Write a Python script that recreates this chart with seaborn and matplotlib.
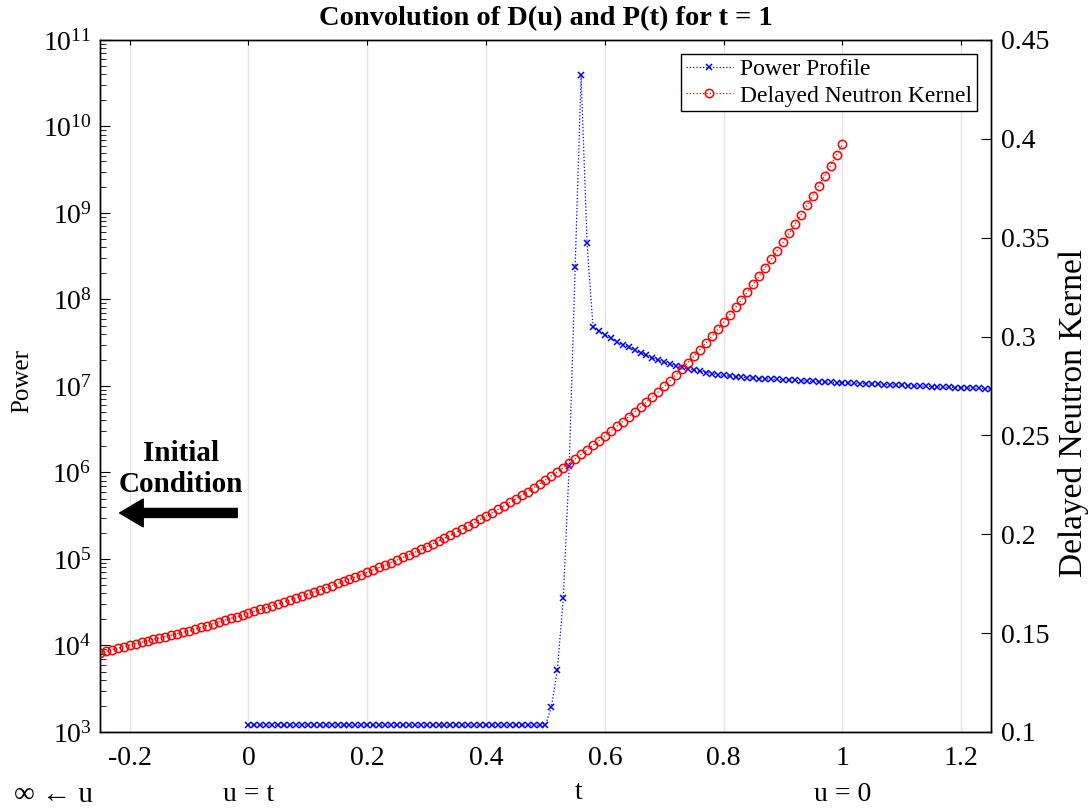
import numpy as np
import seaborn as sns
import matplotlib.pyplot as plt
import matplotlib.transforms as mtransforms

# time grids, step 0.01
t_power = np.round(np.arange(0, 1.2501, 0.01), 2)
t_kernel = np.round(np.arange(-0.25, 1.0001, 0.01), 2)

# power profile
power_flat = [1.2e3] * 51                                              # t = 0.00 .. 0.50
power_spike = [1.96e3, 5.2e3, 3.5e4, 1.2e6, 2.4e8, 3.9e10, 4.5e8]     # t = 0.51 .. 0.57
power_tail = [4.85e7, 4.3e7, 3.9e7, 3.55e7, 3.25e7, 3.0e7, 2.8e7, 2.6e7, 2.43e7, 2.26e7,
              2.11e7, 1.99e7, 1.88e7, 1.79e7, 1.71e7, 1.64e7, 1.58e7, 1.53e7, 1.48e7, 1.43e7,
              1.39e7, 1.355e7, 1.325e7, 1.30e7, 1.275e7, 1.26e7, 1.245e7, 1.23e7,
              1.22e7, 1.21e7, 1.20e7, 1.19e7, 1.18e7, 1.17e7, 1.16e7, 1.15e7, 1.14e7, 1.13e7,
              1.12e7, 1.11e7, 1.105e7, 1.095e7, 1.09e7,
              1.082e7, 1.075e7, 1.068e7, 1.061e7, 1.054e7, 1.047e7, 1.040e7, 1.033e7, 1.026e7,
              1.019e7, 1.012e7, 1.005e7, 9.98e6, 9.91e6, 9.84e6, 9.77e6, 9.71e6, 9.65e6, 9.59e6,
              9.53e6, 9.47e6, 9.41e6, 9.35e6, 9.29e6, 9.23e6]                # t = 0.58 .. 1.25
power = power_flat + power_spike + power_tail

# delayed neutron kernel, t = -0.25 .. 1.00
kernel = [0.1400, 0.1408, 0.1416, 0.1424, 0.1432, 0.1440, 0.1447, 0.1454, 0.1461, 0.1468,
          0.1475, 0.1482, 0.1490, 0.1497, 0.1505, 0.1513, 0.1521, 0.1529, 0.1538, 0.1547,
          0.1556, 0.1565, 0.1574, 0.1583, 0.1592,
          0.1601, 0.1610, 0.1620, 0.1629, 0.1639, 0.1648, 0.1658, 0.1668, 0.1678, 0.1688,
          0.1698, 0.1708, 0.1719, 0.1729, 0.1740, 0.1751, 0.1762, 0.1773, 0.1784, 0.1796,
          0.1808, 0.1820, 0.1832, 0.1844, 0.1857, 0.1870, 0.1883, 0.1896, 0.1909, 0.1923,
          0.1937, 0.1951, 0.1966, 0.1980, 0.1995, 0.2011, 0.2026, 0.2042, 0.2058, 0.2075,
          0.2092, 0.2109, 0.2126, 0.2143, 0.2161, 0.2179, 0.2197, 0.2216, 0.2235, 0.2255,
          0.2275, 0.2295, 0.2316, 0.2337, 0.2359, 0.2381, 0.2404, 0.2427, 0.2450, 0.2474,
          0.2498, 0.2522, 0.2546, 0.2570, 0.2594, 0.2619, 0.2644, 0.2669, 0.2695, 0.2721,
          0.2748, 0.2777, 0.2807, 0.2837, 0.2868, 0.2900, 0.2933, 0.2967, 0.3001, 0.3036,
          0.3072, 0.3109, 0.3147, 0.3186, 0.3225, 0.3265, 0.3306, 0.3348, 0.3390, 0.3433,
          0.3477, 0.3522, 0.3568, 0.3615, 0.3663, 0.3712, 0.3762, 0.3813, 0.3865, 0.3918, 0.3972]

x_ticks = [-0.2, 0, 0.2, 0.4, 0.6, 0.8, 1.0, 1.2]
x_labels = ["-0.2", "0", "0.2", "0.4", "0.6", "0.8", "1", "1.2"]
k_ticks = [0.1, 0.15, 0.2, 0.25, 0.3, 0.35, 0.4, 0.45]
k_labels = ["0.1", "0.15", "0.2", "0.25", "0.3", "0.35", "0.4", "0.45"]

sns.set_style("white")
plt.rcParams["font.family"] = ["Liberation Serif", "DejaVu Serif"]
plt.rcParams["mathtext.fontset"] = "stix"
for key in ["text.color", "axes.labelcolor", "xtick.color", "ytick.color"]:
    plt.rcParams[key] = "black"

fig = plt.figure(figsize=(10.88, 8.09), dpi=100)
ax = fig.add_axes([0.0919, 0.0952, 0.8189, 0.8554])
ax2 = ax.twinx()

# power profile on the log axis
sns.lineplot(x=t_power, y=power, ax=ax, sort=False, color="blue", marker="x",
             markersize=5, markeredgecolor="blue", markeredgewidth=1.1,
             linestyle=":", linewidth=0.9, legend=False)
ax.set_yscale("log")
ax.set_xlim(-0.25, 1.25)
ax.set_ylim(1e3, 1e11)
ax.set_yticks([10.0 ** k for k in range(3, 12)])
ax.set_xticks(x_ticks)
ax.set_xticklabels(x_labels)
ax.grid(axis="x", color="#e3e3e3", linewidth=1)
ax.tick_params(axis="both", which="both", direction="in", labelsize=20, right=False, top=True)
ax.tick_params(axis="x", pad=10)
ax.tick_params(axis="y", which="major", length=7, pad=6)
ax.tick_params(axis="y", which="minor", length=4)
ax.set_ylabel("Power", fontsize=18)
ax.yaxis.set_label_coords(-0.075, 0.507)
ax.set_title("Convolution of D(u) and P(t) for t = 1", fontsize=20.5, fontweight="bold", pad=11)

# kernel on the right axis
sns.lineplot(x=t_kernel, y=kernel, ax=ax2, sort=False, color="red", marker="o",
             markersize=6, markerfacecolor="none", markeredgecolor="red",
             markeredgewidth=1.1, linestyle=":", linewidth=0.9, legend=False)
ax2.set_ylim(0.1, 0.45)
ax2.set_yticks(k_ticks)
ax2.set_yticklabels(k_labels)
ax2.tick_params(axis="y", direction="in", labelsize=20, length=7, pad=7)
ax2.set_ylabel("Delayed Neutron Kernel", fontsize=24)
ax2.yaxis.set_label_coords(1.075, 0.461)

for a in (ax, ax2):
    for s in a.spines.values():
        s.set_color("black")
        s.set_linewidth(1.0)

handles = [ax.lines[0], ax2.lines[0]]
ax2.legend(handles, ["Power Profile", "Delayed Neutron Kernel"], loc="upper right",
           fontsize=17, frameon=True, fancybox=False, edgecolor="black", framealpha=1,
           borderpad=0.2, handlelength=2.0, handletextpad=0.3, borderaxespad=0.6,
           labelspacing=0.2)

# annotations
bt = mtransforms.blended_transform_factory(ax.transData, ax.transAxes)
ax.text(-0.113, 0.38, "Initial\nCondition", transform=bt,
        ha="center", va="center", fontsize=21, fontweight="bold", linespacing=1.15)
ax.annotate("", xy=(0.022, 0.3165), xytext=(0.154, 0.3165), xycoords="axes fraction",
            arrowprops=dict(width=6.5, headwidth=20, headlength=17, color="black", shrink=0))

ax.text(-0.328, -0.091, "∞ ← u", transform=bt, ha="center", va="center", fontsize=21)
ax.text(0.0, -0.091, "u = t", transform=bt, ha="center", va="center", fontsize=20)
ax.text(0.555, -0.088, "t", transform=bt, ha="center", va="center", fontsize=20)
ax.text(1.0, -0.091, "u = 0", transform=bt, ha="center", va="center", fontsize=20)

fig.savefig("out.png", dpi=100)
